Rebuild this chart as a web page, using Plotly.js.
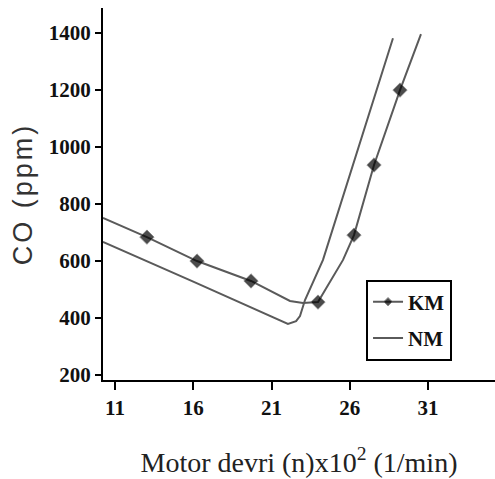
<!DOCTYPE html>
<html>
<head>
<meta charset="utf-8">
<script src="https://cdn.plot.ly/plotly-3.0.1.min.js"></script>
<style>
html,body{margin:0;padding:0;background:#fff;}
#chart{width:495px;height:479px;}
#chart .ytitle{letter-spacing:3px;}
</style>
</head>
<body>
<div id="chart"></div>
<script>
// KM curve (with measured points marked)
const kmX = [10.23, 13.04, 16.24, 19.69, 22.18, 23.01, 23.97, 25.57, 26.27, 27.55, 29.21, 30.55];
const kmY = [751, 684, 600, 530, 460, 453, 456, 604, 691, 937, 1200, 1396];
const kmMeasured = [false, true, true, true, false, false, true, false, true, true, true, false];
// NM curve
const nmX = [10.23, 16.0, 22.05, 22.57, 22.82, 23.14, 24.29, 28.76];
const nmY = [667, 528, 379, 389, 407, 463, 604, 1382];

const xTicks = [11, 16, 21, 26, 31];
const yTicks = [200, 400, 600, 800, 1000, 1200, 1400];

const serifBold = {family: '"Liberation Serif", "Times New Roman", serif', size: 21, color: '#111', weight: 'bold'};

const traces = [
  {
    x: kmX, y: kmY, name: 'KM', mode: 'lines+markers',
    line: {color: '#5a5a5a', width: 2},
    marker: {symbol: 'diamond', color: '#000', size: kmMeasured.map(m => m ? 11 : 0)},
    legendgroup: 'a'
  },
  {
    x: nmX, y: nmY, name: 'NM', mode: 'lines',
    line: {color: '#5a5a5a', width: 2},
    legendgroup: 'b'
  }
];

const layout = {
  width: 495, height: 479,
  margin: {l: 103, r: 0, t: 8, b: 99},
  paper_bgcolor: '#fff', plot_bgcolor: '#fff',
  showlegend: true,
  legend: {
    x: 0.671, y: 0.27, xanchor: 'left', yanchor: 'top',
    bordercolor: '#000', borderwidth: 2, bgcolor: '#fff',
    font: serifBold, traceorder: 'grouped', tracegroupgap: 6
  },
  xaxis: {
    range: [10.233, 35.28], tickvals: xTicks, ticktext: xTicks.map(String),
    showline: true, linecolor: '#000', linewidth: 2, mirror: false,
    ticks: 'outside', ticklen: 8, tickwidth: 2, tickcolor: '#000',
    showgrid: false, zeroline: false, tickfont: serifBold,
    title: {text: 'Motor devri (n)x10<sup>2</sup> (1/min)', font: {family: '"Liberation Serif", "Times New Roman", serif', size: 28, color: '#222'}, standoff: 33}
  },
  yaxis: {
    range: [182.5, 1488], tickvals: yTicks, ticktext: yTicks.map(String),
    showline: true, linecolor: '#000', linewidth: 2, mirror: false,
    ticks: 'outside', ticklen: 6, tickwidth: 2, tickcolor: '#000',
    showgrid: false, zeroline: false, tickfont: serifBold,
    title: {text: 'CO (ppm)', font: {family: '"Liberation Sans", Arial, sans-serif', size: 27, color: '#333'}, standoff: 8}
  }
};

Plotly.newPlot('chart', traces, layout, {displayModeBar: false, staticPlot: true});
</script>
</body>
</html>
